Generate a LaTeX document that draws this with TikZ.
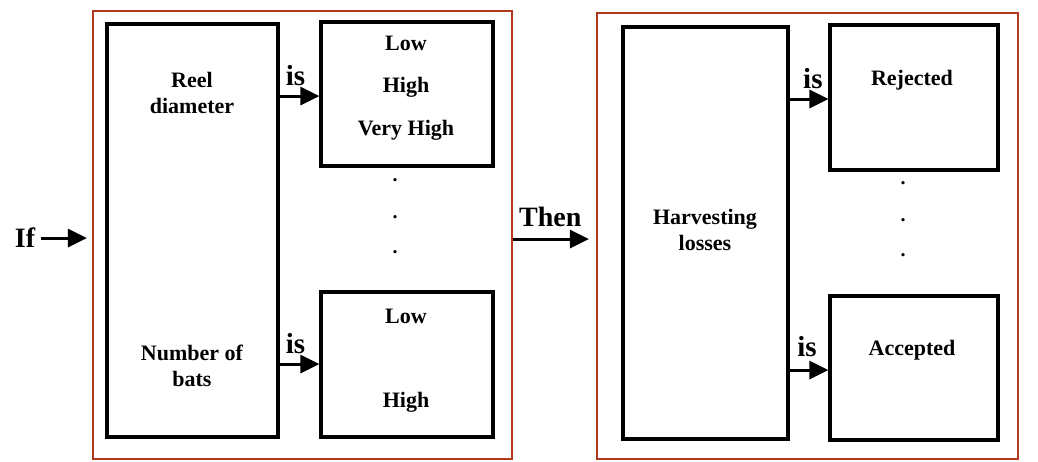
\documentclass[tikz,border=0pt]{standalone}
\usepackage{fontspec}
\setmainfont{Liberation Serif}
\usetikzlibrary{arrows.meta}
\definecolor{framecol}{RGB}{178,58,28}
\begin{document}
\begin{tikzpicture}[x=1pt,y=-1pt,
  box/.style={draw,line width=3.2pt,inner sep=0pt},
  outer/.style={draw=framecol,line width=2.2pt,inner sep=0pt},
  arr/.style={line width=3pt,-{Triangle[length=19pt,width=18pt]}},
  lbl/.style={font=\bfseries\fontsize{22}{26}\selectfont,align=center,inner sep=0pt},
  islbl/.style={font=\bfseries\fontsize{29}{32}\selectfont,inner sep=0pt},
  dot/.style={font=\bfseries\fontsize{20}{24}\selectfont,inner sep=0pt},
]
\useasboundingbox (0,0) rectangle (1038,461);
% frames
\node[outer,minimum width=419pt,minimum height=448pt] (lf) at (302.5,235) {};
\node[outer,minimum width=421pt,minimum height=446pt] (rf) at (807.5,236) {};
% left boxes
\node[box,minimum width=171pt,minimum height=413pt] (reel) at (192.5,230.5) {};
\node[box,minimum width=172pt,minimum height=144pt] (lt) at (407,94) {};
\node[box,minimum width=172pt,minimum height=145pt] (lb) at (407,364.5) {};
% right boxes
\node[box,minimum width=165pt,minimum height=412pt] (harv) at (705.5,233) {};
\node[box,minimum width=168pt,minimum height=145pt] (rt) at (914,97.5) {};
\node[box,minimum width=168pt,minimum height=144pt] (rb) at (914,368) {};
% texts
\node[lbl] (t1) at (192,93) {Reel\\diameter};
\node[lbl] (t2) at (192,366) {Number of\\bats};
\node[lbl] (t3) at (705,230) {Harvesting\\losses};
\node[lbl] (l1) at (406,43) {Low};
\node[lbl] (l2) at (406,87) {High};
\node[lbl] (l3) at (406,130) {Very High};
\node[lbl] (l4) at (406,316) {Low};
\node[lbl] (l5) at (406,402) {High};
\node[lbl] (r1) at (912,80) {Rejected};
\node[lbl] (r2) at (912,350) {Accepted};
% dots
\node[dot] (d1) at (395,180) {.};
\node[dot] (d2) at (395,217) {.};
\node[dot] (d3) at (395,252) {.};
\node[dot] (d4) at (903,183) {.};
\node[dot] (d5) at (903,220) {.};
\node[dot] (d6) at (903,255) {.};
% arrows
\coordinate (y1) at (0,96);
\coordinate (y2) at (0,364);
\coordinate (y3) at (0,99);
\coordinate (y4) at (0,370);
\draw[arr] (reel.east |- y1) -- (lt.west |- y1) node[islbl,pos=0.4,above=9pt] (is1) {is};
\draw[arr] (reel.east |- y2) -- (lb.west |- y2) node[islbl,pos=0.4,above=9pt] (is2) {is};
\draw[arr] (harv.east |- y3) -- (rt.west |- y3) node[islbl,pos=0.6,above=9pt] (is3) {is};
\draw[arr] (harv.east |- y4) -- (rb.west |- y4) node[islbl,pos=0.45,above=12pt] (is4) {is};
\node[font=\bfseries\fontsize{28}{32}\selectfont,inner sep=0pt] (if) at (25,238) {If};
\draw[arr,shorten >=5pt] (if.east) ++(6pt,0) -- (lf.west |- if.east);
\coordinate (y5) at (0,239);
\draw[arr,shorten >=7pt] (lf.east |- y5) -- (rf.west |- y5) node[font=\bfseries\fontsize{28}{32}\selectfont,inner sep=0pt,pos=0.45,above=11pt] (then) {Then};
\end{tikzpicture}
\end{document}
